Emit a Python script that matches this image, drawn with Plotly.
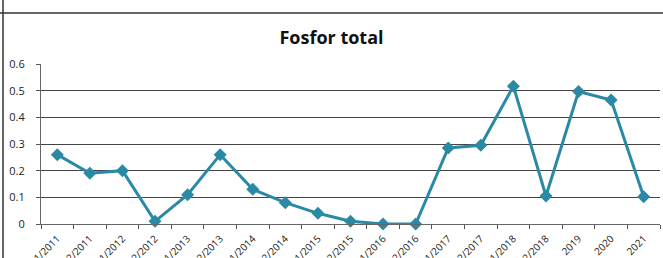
import plotly.graph_objects as go

categories = ["S1/2011", "S2/2011", "S1/2012", "S2/2012", "S1/2013", "S2/2013",
              "S1/2014", "S2/2014", "S1/2015", "S2/2015", "S1/2016", "S2/2016",
              "S1/2017", "S2/2017", "S1/2018", "S2/2018", "2019", "2020", "2021"]
values = [0.26, 0.19, 0.20, 0.01, 0.11, 0.26, 0.13, 0.08, 0.04, 0.01, 0.0, 0.0,
          0.285, 0.295, 0.517, 0.105, 0.497, 0.465, 0.102]
y_ticks = [0, 0.1, 0.2, 0.3, 0.4, 0.5, 0.6]
y_ticklabels = ["0", "0.1", "0.2", "0.3", "0.4", "0.5", "0.6"]

color = "#2a8aa6"

fig = go.Figure()
fig.add_trace(go.Scatter(
    x=categories, y=values, mode="lines+markers",
    line=dict(color=color, width=3),
    marker=dict(symbol="diamond", size=10, color=color),
    showlegend=False, cliponaxis=False, hoverinfo="skip",
))

fig.update_layout(
    width=663, height=258,
    margin=dict(l=41, r=3, t=64, b=34, autoexpand=False),
    paper_bgcolor="white", plot_bgcolor="white",
    title=dict(text="<b>Fosfor total</b>", x=0.5, xanchor="center", y=0.855, yanchor="middle",
               font=dict(family="Open Sans", size=18, color="#111")),
    font=dict(family="Open Sans", color="#222"),
    shapes=[
        dict(type="line", xref="paper", yref="paper", x0=-0.1, x1=1.1, y0=(258 - 13 - 34) / 160, y1=(258 - 13 - 34) / 160,
             line=dict(color="#333", width=1.5)),
        dict(type="line", xref="paper", yref="paper", x0=-38 / 619, x1=-38 / 619, y0=-1, y1=2,
             line=dict(color="#333", width=1.5)),
    ],
)

fig.update_xaxes(
    type="category", tickangle=-45, automargin=False,
    tickson="boundaries", ticks="outside", ticklen=4, tickcolor="#555",
    showline=True, linecolor="#666", linewidth=1,
    showgrid=False, tickfont=dict(size=10, color="#222"),
    ticklabelstandoff=4,
    range=[-0.5, len(categories) - 0.5],
)
fig.update_yaxes(
    range=[0, 0.6], tickvals=y_ticks, ticktext=y_ticklabels, automargin=False,
    ticks="outside", ticklen=4, tickcolor="#555",
    showline=True, linecolor="#666", linewidth=1,
    showgrid=True, gridcolor="#444", gridwidth=1, zeroline=False,
    tickfont=dict(size=11, color="#222"),
    ticklabelstandoff=9,
)

fig.write_html("out.html", config={"displayModeBar": False, "staticPlot": True},
               post_script="document.body.style.margin='0';document.body.style.overflow='hidden';")
